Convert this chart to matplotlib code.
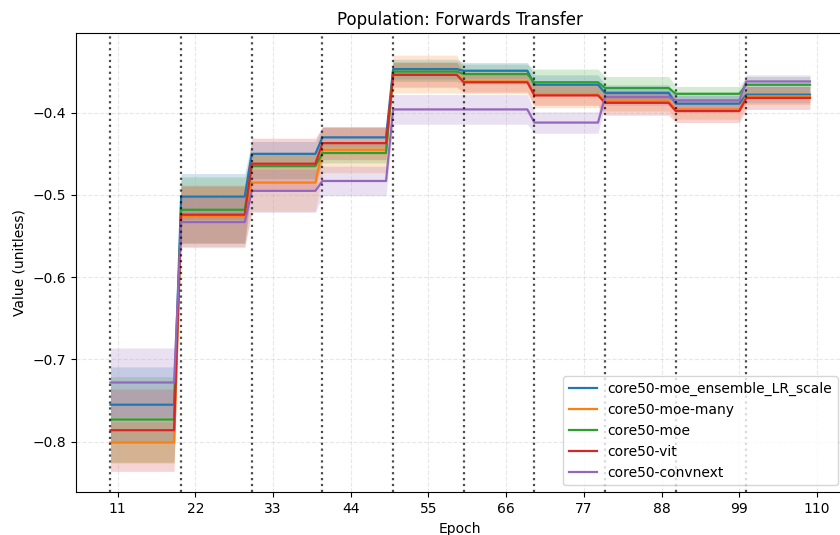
import numpy as np
import matplotlib
matplotlib.use("Agg")
import matplotlib.pyplot as plt

# one value per 10-epoch block (epochs 10-19, 20-29, ..., 100-109)
blocks = [10, 20, 30, 40, 50, 60, 70, 80, 90, 100]

names = ["core50-moe_ensemble_LR_scale", "core50-moe-many", "core50-moe",
         "core50-vit", "core50-convnext"]
colors = ["tab:blue", "tab:orange", "tab:green", "tab:red", "tab:purple"]

moe_ens_mean = [-0.755, -0.502, -0.450, -0.430, -0.347, -0.349, -0.366, -0.376, -0.389, -0.378]
moe_ens_std = [0.046, 0.028, 0.015, 0.012, 0.012, 0.010, 0.012, 0.010, 0.010, 0.010]

moe_many_mean = [-0.801, -0.526, -0.485, -0.445, -0.353, -0.362, -0.378, -0.386, -0.396, -0.380]
moe_many_std = [0.025, 0.038, 0.035, 0.028, 0.023, 0.015, 0.016, 0.012, 0.012, 0.010]

moe_mean = [-0.773, -0.518, -0.465, -0.449, -0.350, -0.353, -0.363, -0.370, -0.377, -0.366]
moe_std = [0.052, 0.040, 0.015, 0.012, 0.012, 0.012, 0.016, 0.014, 0.009, 0.010]

vit_mean = [-0.786, -0.524, -0.462, -0.437, -0.354, -0.363, -0.379, -0.388, -0.398, -0.382]
vit_std = [0.050, 0.035, 0.031, 0.020, 0.015, 0.012, 0.012, 0.015, 0.014, 0.014]

convnext_mean = [-0.728, -0.533, -0.495, -0.483, -0.396, -0.396, -0.412, -0.381, -0.385, -0.362]
convnext_std = [0.042, 0.030, 0.026, 0.018, 0.018, 0.018, 0.013, 0.010, 0.010, 0.008]

means = [moe_ens_mean, moe_many_mean, moe_mean, vit_mean, convnext_mean]
stds = [moe_ens_std, moe_many_std, moe_std, vit_std, convnext_std]

epochs = np.arange(10, 110)

fig = plt.figure(figsize=(8.4, 5.35), dpi=100)
ax = fig.add_axes([0.0899, 0.0798, 0.916, 0.8576])

for name, color, m, s in zip(names, colors, means, stds):
    m = np.repeat(m, 10)
    s = np.repeat(s, 10)
    ax.plot(epochs, m, color=color, linewidth=1.6, label=name)
    ax.fill_between(epochs, m - s, m + s, color=color, alpha=0.2, linewidth=0)

for b in blocks:
    ax.axvline(b, color="black", linestyle=":", linewidth=1.6, alpha=0.7)

ax.set_xlim(5.05, 113.95)
ax.set_ylim(-0.8615, -0.3037)
ax.set_xticks(np.arange(11, 111, 11))
ax.set_yticks([-0.8, -0.7, -0.6, -0.5, -0.4])
ax.grid(True, linestyle="--", alpha=0.3)
ax.set_title("Population: Forwards Transfer")
ax.set_xlabel("Epoch")
ax.set_ylabel("Value (unitless)")
ax.legend(loc="lower right")

fig.savefig("out.png", dpi=100)
plt.close(fig)
